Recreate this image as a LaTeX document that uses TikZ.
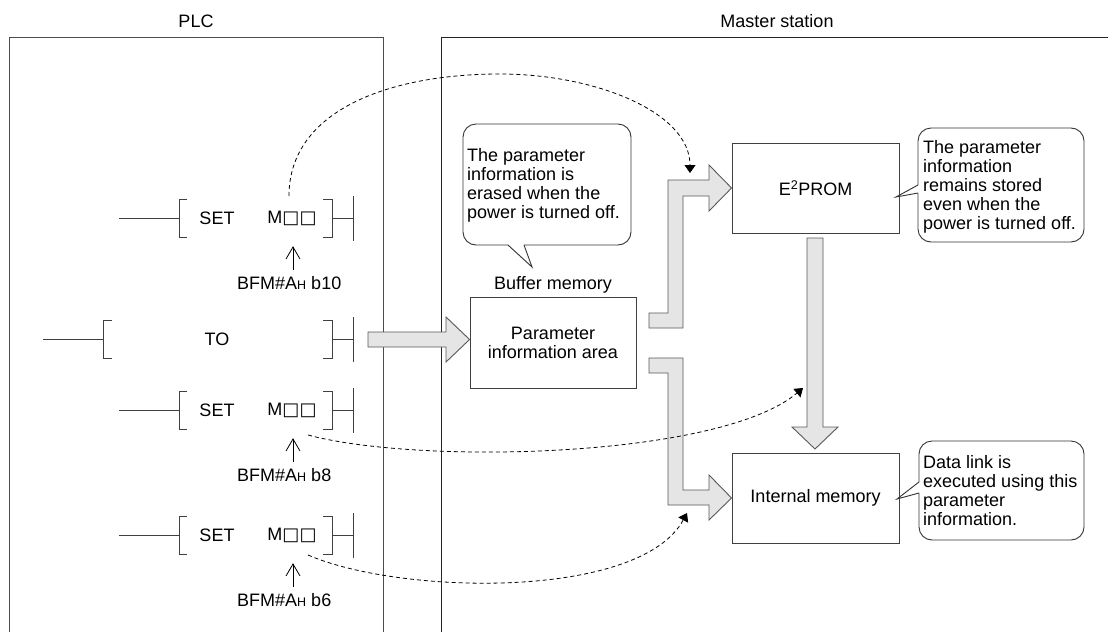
\documentclass[tikz,border=0pt]{standalone}
\usepackage{fontspec}
\setmainfont{Liberation Sans}
\newfontfamily\symfont{DejaVu Sans}
\usetikzlibrary{arrows.meta}
\begin{document}
\begin{tikzpicture}[x=1pt,y=-1pt,
  every node/.style={font=\fontsize{18}{19}\selectfont, inner sep=0pt, text=black},
  frame/.style={draw=black!70, line width=0.9pt},
  ladder/.style={draw=black!75, line width=0.9pt},
  boxnode/.style={draw=black!75, line width=0.9pt, minimum width=167pt, minimum height=90pt, align=center},
  bigarrow/.style={draw=black!65, fill=black!10, line width=0.9pt, line join=miter},
  link/.style={draw=black, line width=0.8pt, dash pattern=on 4pt off 3pt, -{Triangle[length=8pt,width=11pt]}},
  bubble/.style={draw=black!80, fill=white, line width=0.9pt, rounded corners=13pt},
  tail/.style={draw=black!80, line width=0.9pt, line join=miter},
  uparrow/.style={draw=black, line width=0.8pt, -{Straight Barb[length=12pt,width=14pt]}},
  smallh/.style={}
]
\useasboundingbox (0,0) rectangle (1108,632);
\fill[white] (0,0) rectangle (1108,632);

% titles
\node (plc) at (196,21) {PLC};
\node (master) at (777,21) {Master station};

% frames
\draw[frame] (9,632) -- (9,37) -- (383,37) -- (383,632);
\draw[frame, draw=black!85] (1108,37) -- (441,37) -- (441,632);

% ladder: SET rungs
\foreach \y/\n/\b in {218/1/10, 410/2/8, 535/3/6} {
  \draw[ladder] (119,\y) -- (179,\y);
  \draw[ladder] (187,\y-19) -- (179,\y-19) -- (179,\y+19) -- (187,\y+19);
  \draw[ladder] (323,\y-19) -- (332,\y-19) -- (332,\y+19) -- (323,\y+19);
  \draw[ladder] (332,\y) -- (353,\y);
  \draw[ladder] (353,\y-22) -- (353,\y+23);
  \node (set\n) at (217,\y) {SET};
  \node (m\n) at (292,\y) {M{\symfont □□}};
  \node[anchor=west] (bfm\n) at (237,\y+65) {BFM\#A{\fontsize{12.5}{12.5}\selectfont H} b\b};
  \draw[uparrow] (bfm\n.north -| m\n) ++(1,-6) coordinate (ua\n) -- ++(0,-24);
}

% ladder: TO rung
\draw[ladder] (43,339) -- (103,339);
\draw[ladder] (112,320.5) -- (103,320.5) -- (103,358) -- (112,358);
\draw[ladder] (323,320.5) -- (332,320.5) -- (332,358) -- (323,358);
\draw[ladder] (332,339) -- (353,339);
\draw[ladder] (353,317) -- (353,362);
\node (to) at (217,339) {TO};

% boxes
\node[boxnode, minimum width=166pt, minimum height=91pt] (param) at (553,342.5) {Parameter\\information area};
\node (buffer) at (553,285) {Buffer memory};
\node[boxnode] (eprom) at (815.5,188) {E\textsuperscript{2}PROM};
\node[boxnode] (internal) at (815.5,498) {Internal memory};

% big hollow arrows
\draw[bigarrow] (368,332) -- (446,332) -- (446,317) -- (param.west |- 0,339.5) -- (446,362) -- (446,347) -- (368,347) -- cycle;
\draw[bigarrow] (649,313) -- (668,313) -- (668,180) -- (709,180) -- (709,165) -- (eprom.west) -- (709,211) -- (709,196) -- (683,196) -- (683,328) -- (649,328) -- cycle;
\draw[bigarrow] (649,358) -- (683,358) -- (683,490) -- (709,490) -- (709,475) -- (internal.west) -- (709,520) -- (709,505) -- (668,505) -- (668,373) -- (649,373) -- cycle;
\draw[bigarrow] (807,238) -- (823,238) -- (823,427) -- (838,427) -- (815,449) -- (792,427) -- (807,427) -- cycle;

% bubble 1
\draw[bubble] (463,124) rectangle (631,245);
\fill[white] (508,241) -- (508,245) -- (532,267) -- (524,245) -- (524,241) -- cycle;
\draw[tail] (508,245) -- (532,267) -- (524,245);
\node[anchor=north west, align=left] (note1) at (467,148) {The parameter\\information is\\erased when the\\power is turned off.};

% bubble 2
\draw[bubble] (918,128) rectangle (1084,242);
\fill[white] (922,185) -- (918,185) -- (896,197) -- (918,193) -- (922,193) -- cycle;
\draw[tail] (918,185) -- (896,197) -- (918,193);
\node[anchor=north west, align=left] (note2) at (923,140.5) {The parameter\\information\\remains stored\\even when the\\power is turned off.};

% bubble 3
\draw[bubble] (919,441) rectangle (1084,540);
\fill[white] (923,482) -- (919,482) -- (897,499) -- (919,493) -- (923,493) -- cycle;
\draw[tail] (919,482) -- (897,499) -- (919,493);
\node[anchor=north west, align=left] (note3) at (923,455) {Data link is\\executed using this\\parameter\\information.};

% dashed links
\coordinate (s1) at (289,196);
\coordinate (t1) at (690,173);
\draw[link] (s1) .. controls (289,110) and (390,74) .. (500,74) .. controls (595,74) and (690,112) .. (t1);
\coordinate (s2) at (308,435);
\coordinate (t2) at (803,388);
\draw[link] (s2) .. controls (420,465) and (720,458) .. (t2);
\coordinate (s3) at (308,555);
\coordinate (t3) at (687,513);
\draw[link] (s3) .. controls (400,595) and (640,600) .. (t3);
\end{tikzpicture}
\end{document}
